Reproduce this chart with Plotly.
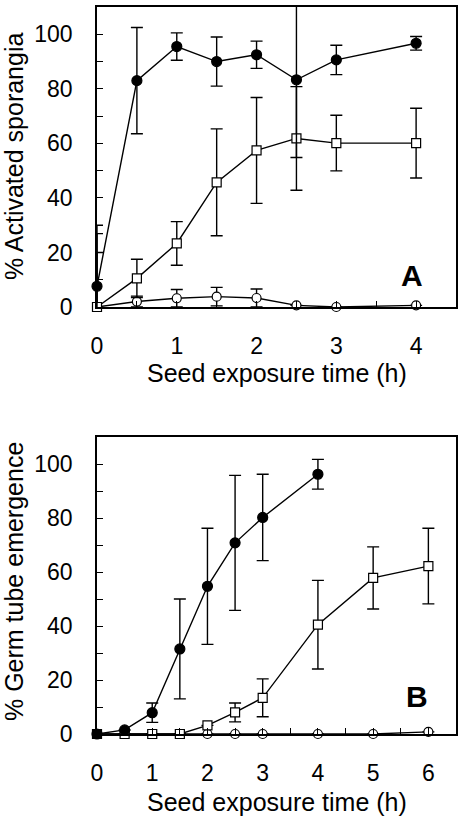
import plotly.graph_objects as go

# ---- Panel A data ----
xA = [0, 0.5, 1, 1.5, 2, 2.5, 3, 4]
filledA = [7.6, 83, 95.5, 90, 92.5, 83.3, 90.6, 96.7]
filledA_err = [19.3, 19.5, 5, 9, 5, 28.5, 5.4, 2.5]
squareA = [0, 10.5, 23.3, 45.7, 57.4, 61.8, 60.1, 60.1]
squareA_err = [30, 7, 8, 19.6, 19.4, 19, 10.2, 12.8]
openA = [0, 2, 3.2, 3.8, 3.3, 0.6, 0, 0.6]
openA_err = [20, 2, 3.2, 3.4, 3.3, 0, 0, 0]

# ---- Panel B data ----
xB_filled = [0, 0.5, 1, 1.5, 2, 2.5, 3, 4]
filledB = [0, 1.5, 7.9, 31.5, 54.7, 70.8, 80.2, 96.2]
filledB_err = [0, 0, 3.6, 18.5, 21.5, 25, 16, 5.5]
xB = [0, 0.5, 1, 1.5, 2, 2.5, 3, 4, 5, 6]
squareB = [0, 0, 0, 0, 3.2, 8, 13.4, 40.5, 57.8, 62.2]
squareB_err = [0, 0, 0, 0, 0, 3.5, 7, 16.4, 11.5, 14]
openB = [0, 0, 0, 0, 0, 0, 0, 0, 0, 0.8]
openB_err = [0, 0, 0, 0, 0, 0, 0, 0, 0, 0]

y_ticks = list(range(0, 111, 10))
y_text = [str(v) if v % 20 == 0 and v <= 100 else "" for v in y_ticks]
xA_ticks = [i * 0.5 for i in range(0, 10)]
xA_text = [str(int(v)) if v == int(v) and v <= 4 else "" for v in xA_ticks]
xB_ticks = [i * 0.5 for i in range(0, 14)]
xB_text = [str(int(v)) if v == int(v) and v <= 6 else "" for v in xB_ticks]

FONT = "Liberation Sans, Arial, sans-serif"
LW = 1.4

W, H = 458, 828
L, R, T, B = 97, 2, 7, 828 - 734
plot_w = W - L - R
plot_h = H - T - B


def err(arr):
    return dict(type="data", array=arr, visible=True, color="black",
                thickness=1.4, width=6)


def series(x, y, e, sym, fill, size, xa, ya):
    return go.Scatter(
        x=x, y=y, mode="lines+markers", xaxis=xa, yaxis=ya,
        line=dict(color="black", width=LW),
        marker=dict(symbol=sym, size=size, color=fill,
                    line=dict(color="black", width=1.2)),
        error_y=err(e), cliponaxis=False, showlegend=False)


fig = go.Figure()
fig.add_trace(series(xA, openA, openA_err, "circle", "white", 9, "x", "y"))
fig.add_trace(series(xA, squareA, squareA_err, "square", "white", 9, "x", "y"))
fig.add_trace(series(xA, filledA, filledA_err, "circle", "black", 10, "x", "y"))
fig.add_trace(series(xB, openB, openB_err, "circle", "white", 9, "x2", "y2"))
fig.add_trace(series(xB, squareB, squareB_err, "square", "white", 9, "x2", "y2"))
fig.add_trace(series(xB_filled, filledB, filledB_err, "circle", "black", 10, "x2", "y2"))

axis_common = dict(showline=True, linecolor="black", linewidth=1.5, mirror=True,
                   ticks="inside", ticklen=6, tickwidth=1.2, tickcolor="black",
                   showgrid=False, zeroline=False, automargin=False,
                   tickfont=dict(family=FONT, size=23, color="black"))

# panel vertical extents in page pixels
A_top, A_bot = 7, 307
B_top, B_bot = 437, 734


def ydom(top, bot):
    return [(H - B - bot) / plot_h, (H - B - top) / plot_h]


fig.update_layout(
    width=W, height=H,
    margin=dict(l=L, r=R, t=T, b=B, pad=0),
    paper_bgcolor="white", plot_bgcolor="white",
    xaxis=dict(axis_common, range=[0, 4.5], domain=[0, 1], anchor="y",
               tickmode="array", tickvals=xA_ticks, ticktext=xA_text,
               ticklabelstandoff=18),
    yaxis=dict(axis_common, range=[0, 110], domain=ydom(A_top, A_bot), anchor="x",
               tickmode="array", tickvals=y_ticks, ticktext=y_text,
               ticklabelstandoff=18),
    xaxis2=dict(axis_common, range=[0, 6.5], domain=[0, 1], anchor="y2",
                tickmode="array", tickvals=xB_ticks, ticktext=xB_text,
                ticklabelstandoff=18),
    yaxis2=dict(axis_common, range=[0, 110], domain=ydom(B_top, B_bot), anchor="x2",
                tickmode="array", tickvals=y_ticks, ticktext=y_text,
                ticklabelstandoff=18),
)


def px2paper(px, py):
    return (px - L) / plot_w, 1 - (py - T) / plot_h


title_font = dict(family=FONT, size=25, color="black")
annots = []
for text, px, py, ang in [
    ("Seed exposure time (h)", 276.5, 373, 0),
    ("Seed exposure time (h)", 276.5, 802, 0),
    ("% Activated sporangia", 14, 157, -90),
    ("% Germ tube emergence", 14, 582, -90),
]:
    ax, ay = px2paper(px, py)
    annots.append(dict(text=text, x=ax, y=ay, xref="paper", yref="paper",
                       showarrow=False, font=title_font, textangle=ang,
                       xanchor="center", yanchor="middle"))

annots.append(dict(text="<b>A</b>", x=3.95, y=11.6, xref="x", yref="y",
                   showarrow=False, font=dict(family=FONT, size=30, color="black"),
                   xanchor="center", yanchor="middle"))
annots.append(dict(text="<b>B</b>", x=5.79, y=13.9, xref="x2", yref="y2",
                   showarrow=False, font=dict(family=FONT, size=30, color="black"),
                   xanchor="center", yanchor="middle"))
fig.update_layout(annotations=annots)

# remove the browser's default 8px body margin so the figure sits at (0, 0)
fig.write_html("out.html",
               config={"displayModeBar": False},
               post_script="document.body.style.margin='0px';")
